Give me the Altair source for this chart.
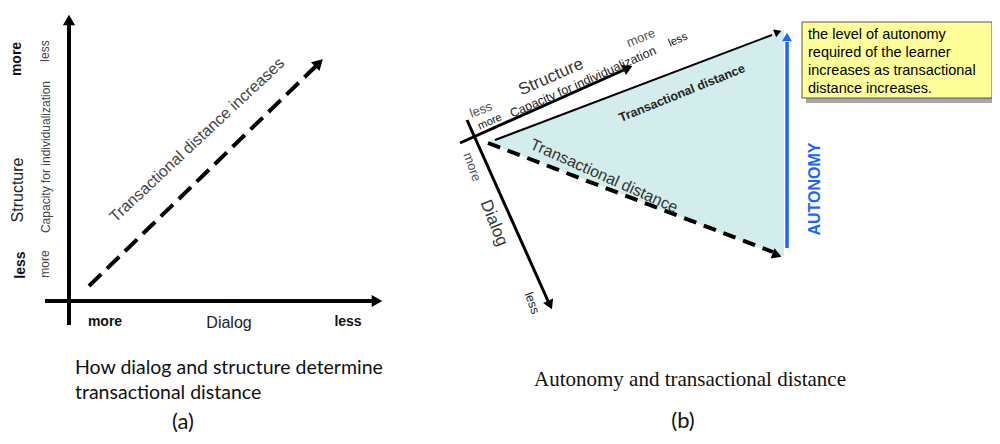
import altair as alt
import pandas as pd

# ---------------- diagram geometry (page pixel coordinates) ----------------
# line segments: x, y, x2, y2, group
seg_x  = [69, 45, 89, 460, 467, 495, 488, 787]
seg_y  = [325, 301, 286, 143, 120, 140, 143, 248]
seg_x2 = [69, 375, 316, 626, 548, 772, 773, 787]
seg_y2 = [24, 301, 66, 69, 301, 35, 252, 42]
seg_group = ["axis_a", "axis_a", "dash_a", "axis_b", "axis_b", "top_b", "dash_b", "blue"]

# arrow heads: centre x, y, heading angle, group
head_x = [69, 377, 319, 628, 550, 778, 777, 787]
head_y = [20, 301, 63, 68, 305, 32, 255, 37]
head_angle = [0, 90, 46, 66, 156, 69, 111, 0]
head_group = ["big", "big", "big", "mid", "mid", "small", "mid", "blue"]

# shaded transactional-distance wedge
wedge_x = [489, 784]
wedge_top = [141, 30]
wedge_bottom = [143, 257]

# note box
box_x, box_x2, box_y, box_y2 = [802], [992], [22], [98]

# text labels
txt = [
    "more", "Structure", "less",
    "less", "Capacity for individualization", "more",
    "more", "less", "Dialog",
    "Transactional distance increases",
    "How dialog and structure determine", "transactional distance",
    "(a)", "(b)",
    "Autonomy and transactional distance",
    "Structure", "Dialog",
    "Capacity for individualization", "more", "less", "less", "more", "more", "less",
    "Transactional distance",
    "Transactional distance",
    "AUTONOMY",
    "the level of autonomy", "required of the learner",
    "increases as transactional", "distance increases.",
]
txt_x = [
    17, 18, 21,
    45, 46, 45,
    105, 348, 229,
    197,
    75, 75,
    183, 683,
    690,
    551, 494,
    583, 641, 678, 481, 490, 472, 532,
    682,
    604,
    815,
    808, 808, 808, 808,
]
txt_y = [
    59, 190, 265,
    51, 157, 264,
    322, 322, 323,
    140,
    368, 393,
    422, 421,
    380,
    77, 223,
    82, 38, 40, 110, 122, 167, 303,
    93,
    176,
    189,
    35, 53, 71, 89,
]
txt_angle = [
    270, 270, 270,
    270, 270, 270,
    0, 0, 0,
    317,
    0, 0,
    0, 0,
    0,
    336, 68,
    336, 338, 336, 340, 336, 70, 70,
    338,
    24,
    270,
    0, 0, 0, 0,
]
txt_style = [
    "a_bold", "a_big", "a_bold",
    "a_small", "a_small", "a_small",
    "a_bold", "a_bold", "a_big",
    "a_diag",
    "cap_a", "cap_a",
    "paren", "paren",
    "cap_b",
    "b_big", "b_big",
    "b_small", "b_gray", "b_tiny", "b_gray", "b_tiny", "b_gray", "b_small",
    "b_bold",
    "b_td",
    "autonomy",
    "note", "note", "note", "note",
]

# ---------------- styles ----------------
SANS = "Liberation Sans"
seg_styles = {
    "axis_a": dict(color="#000000", strokeWidth=4),
    "dash_a": dict(color="#000000", strokeWidth=4, strokeDash=[17, 8]),
    "axis_b": dict(color="#000000", strokeWidth=3),
    "top_b": dict(color="#000000", strokeWidth=2),
    "dash_b": dict(color="#000000", strokeWidth=4, strokeDash=[13, 8]),
    "blue": dict(color="#1a66ff", strokeWidth=3.5),
}
head_styles = {
    "big": dict(color="#000000", size=150),
    "mid": dict(color="#000000", size=120),
    "small": dict(color="#000000", size=70),
    "blue": dict(color="#1a66ff", size=100),
}
text_styles = {
    "a_bold": dict(font=SANS, fontSize=14, fontWeight="bold", color="#111111"),
    "a_big": dict(font=SANS, fontSize=16, color="#222222"),
    "a_small": dict(font=SANS, fontSize=12, color="#444444"),
    "a_diag": dict(font=SANS, fontSize=16, color="#444444"),
    "cap_a": dict(font="Lato", fontSize=19.5, color="#111111", align="left"),
    "paren": dict(font="Lato", fontSize=22, color="#111111"),
    "cap_b": dict(font="Liberation Serif", fontSize=21, color="#111111"),
    "b_big": dict(font=SANS, fontSize=17, color="#333333"),
    "b_small": dict(font=SANS, fontSize=12.5, color="#222222"),
    "b_gray": dict(font=SANS, fontSize=13, color="#555555"),
    "b_tiny": dict(font=SANS, fontSize=11, color="#111111"),
    "b_bold": dict(font=SANS, fontSize=12.5, fontWeight="bold", color="#222222"),
    "b_td": dict(font=SANS, fontSize=16, color="#333333"),
    "autonomy": dict(font=SANS, fontSize=16, fontWeight="bold", color="#1a66ff"),
    "note": dict(font=SANS, fontSize=14.5, color="#000000", align="left"),
}

# ---------------- scales ----------------
xs = alt.Scale(domain=[8, 992], nice=False, zero=False)
ys = alt.Scale(domain=[8, 436], nice=False, zero=False, reverse=True)


def X(f):
    return alt.X(f"{f}:Q", scale=xs, axis=None)


def Y(f):
    return alt.Y(f"{f}:Q", scale=ys, axis=None)


segs = pd.DataFrame(dict(x=seg_x, y=seg_y, x2=seg_x2, y2=seg_y2, g=seg_group))
heads = pd.DataFrame(dict(x=head_x, y=head_y, a=head_angle, g=head_group))
wedge = pd.DataFrame(dict(x=wedge_x, yt=wedge_top, yb=wedge_bottom))
labels = pd.DataFrame(dict(x=txt_x, y=txt_y, t=txt, a=txt_angle, s=txt_style))
box = pd.DataFrame(dict(x=box_x, x2=box_x2, y=box_y, y2=box_y2))

layers = []

# wedge fill
layers.append(
    alt.Chart(wedge).mark_area(color="#d3ecec", opacity=1).encode(
        x=X("x"), y=Y("yt"), y2="yb:Q"
    )
)

# note box shadow + box
layers.append(
    alt.Chart(box).transform_calculate(sx="datum.x + 4", sy="datum.y + 5", sy2="datum.y2 + 5")
    .mark_rect(color="#a8a8a8").encode(x=X("sx"), x2="x2:Q", y=Y("sy"), y2="sy2:Q")
)
layers.append(
    alt.Chart(box).mark_rect(fill="#ffff99", stroke="#555555", strokeWidth=1).encode(
        x=X("x"), x2="x2:Q", y=Y("y"), y2="y2:Q"
    )
)

# line segments
for g, st in seg_styles.items():
    layers.append(
        alt.Chart(segs[segs.g == g]).mark_rule(**st).encode(
            x=X("x"), y=Y("y"), x2="x2:Q", y2="y2:Q"
        )
    )

# arrow heads
for g, st in head_styles.items():
    layers.append(
        alt.Chart(heads[heads.g == g]).mark_point(
            shape="triangle-up", filled=True, opacity=1, strokeWidth=0, **st
        ).encode(x=X("x"), y=Y("y"), angle=alt.Angle("a:Q", scale=None))
    )

# texts
for s, st in text_styles.items():
    props = dict(align="center", baseline="middle")
    props.update(st)
    layers.append(
        alt.Chart(labels[labels.s == s]).mark_text(**props).encode(
            x=X("x"), y=Y("y"), text="t:N", angle=alt.Angle("a:Q", scale=None)
        )
    )

chart = (
    alt.layer(*layers)
    .properties(width=984, height=428, padding=0, autosize=alt.AutoSizeParams(type="none"))
    .configure_view(stroke=None)
)

chart.save("out.html", embed_options={"renderer": "svg", "actions": False})
